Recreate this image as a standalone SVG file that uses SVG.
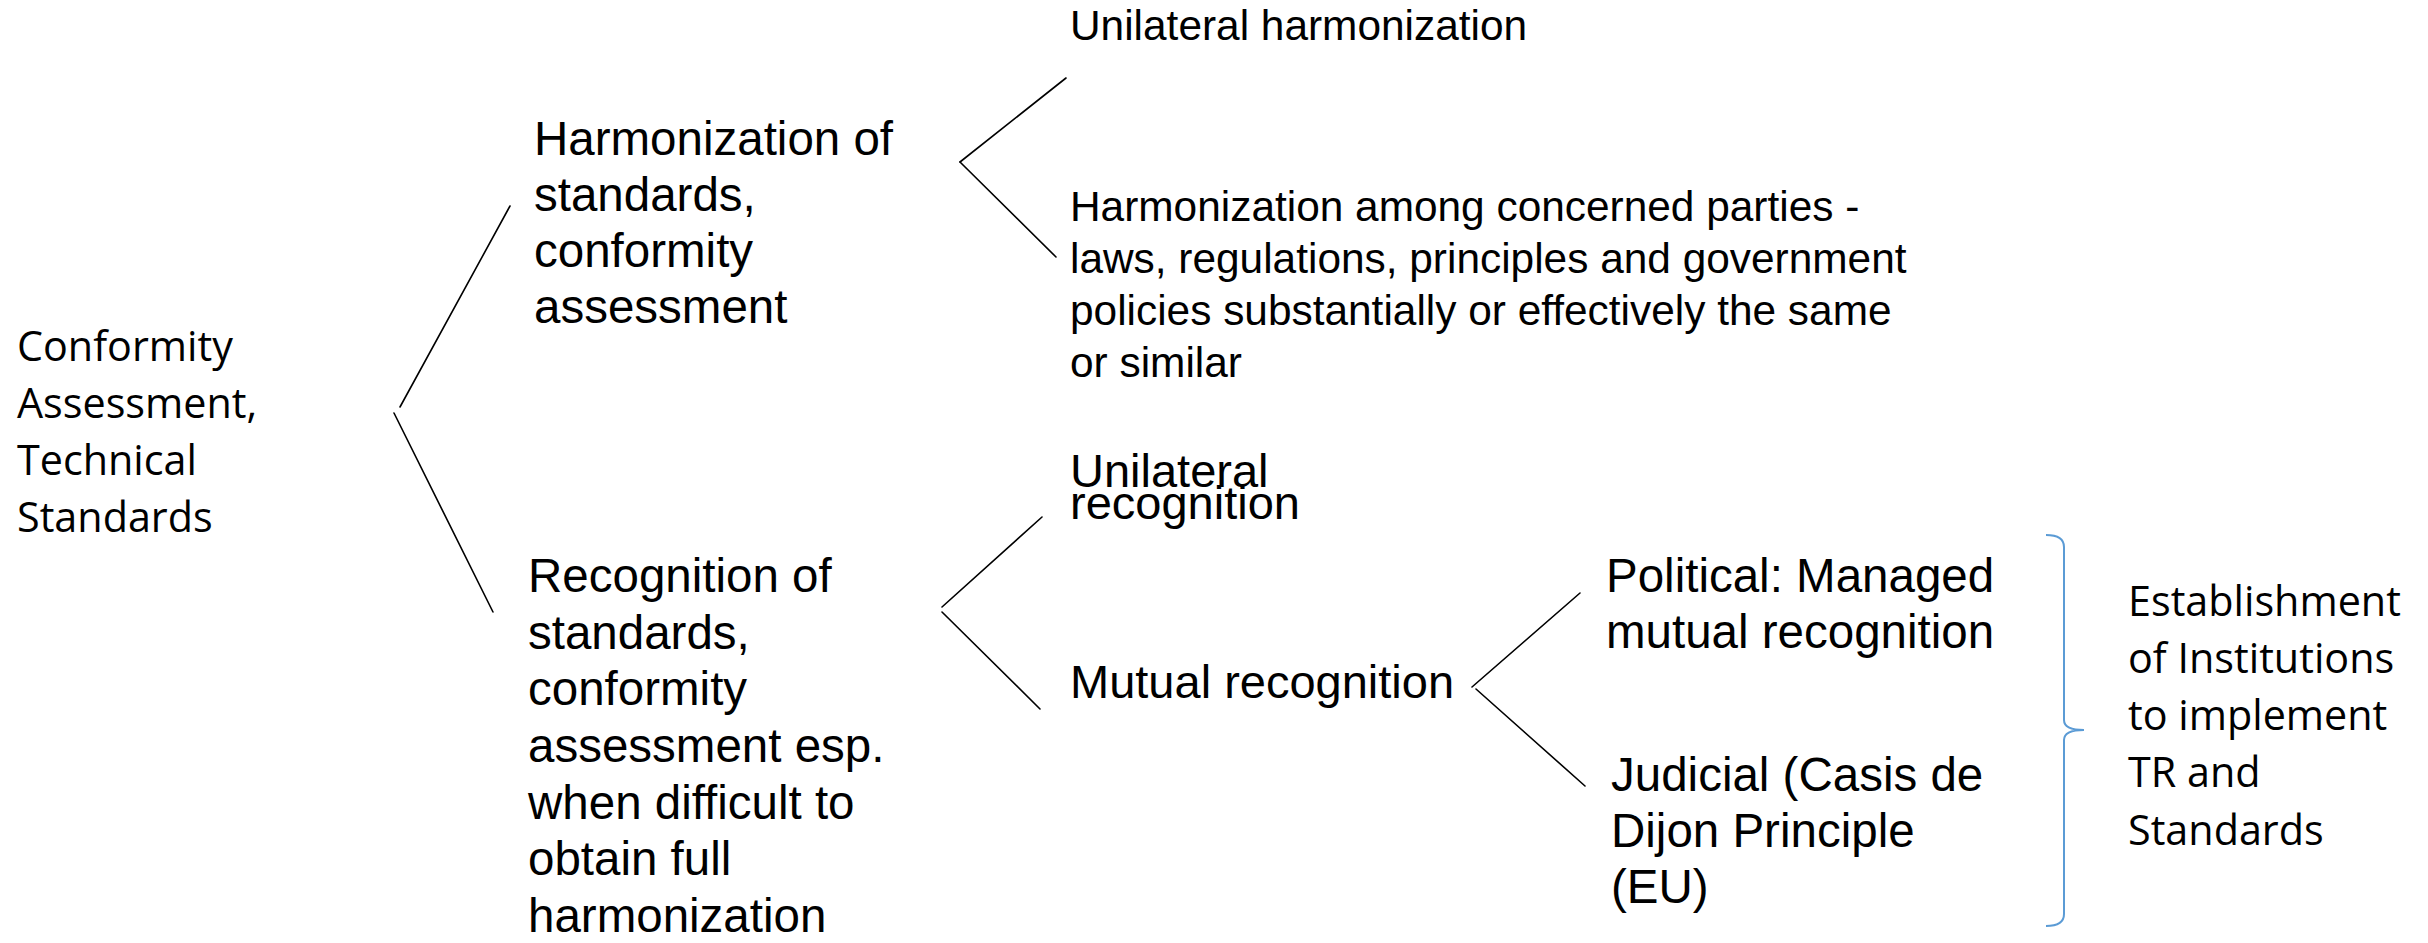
<svg xmlns="http://www.w3.org/2000/svg" width="2428" height="943" viewBox="0 0 2428 943">
<style>
.a{font-family:"Liberation Sans",Arial,sans-serif;fill:#000}
.c{font-family:"Open Sans","Noto Sans",sans-serif;fill:#000;font-size:41.3px}
.s{font-size:47.5px}
.m{font-size:42.4px}
.ln{stroke:#000;stroke-width:1.6;fill:none;stroke-linecap:round}
.br{stroke:#5B9BD5;stroke-width:2;fill:none}
</style>
<rect width="2428" height="943" fill="#fff"/>
<g id="connectors">
<line class="ln" x1="400" y1="407" x2="510" y2="206"/>
<line class="ln" x1="394" y1="413" x2="493" y2="612"/>
<line class="ln" x1="960" y1="162" x2="1066" y2="78"/>
<line class="ln" x1="960" y1="162" x2="1056" y2="257"/>
<line class="ln" x1="942" y1="607" x2="1042" y2="517"/>
<line class="ln" x1="942" y1="612" x2="1040" y2="709"/>
<line class="ln" x1="1472" y1="687" x2="1580" y2="593"/>
<line class="ln" x1="1476" y1="689" x2="1585" y2="786"/>
</g>
<g id="root">
<text class="c" x="17" y="361"><tspan x="17" y="361">Conformity</tspan><tspan x="17" y="418">Assessment,</tspan><tspan x="17" y="475">Technical</tspan><tspan x="17" y="532">Standards</tspan></text>
</g>
<g id="harmonization">
<text class="a s" x="534" y="155"><tspan x="534" y="155">Harmonization of</tspan><tspan x="534" y="211">standards,</tspan><tspan x="534" y="267">conformity</tspan><tspan x="534" y="323">assessment</tspan></text>
</g>
<g id="unilateral-harmonization">
<text class="a m" x="1070" y="40">Unilateral harmonization</text>
</g>
<g id="harmonization-among">
<text class="a m" x="1070" y="221"><tspan x="1070" y="221">Harmonization among concerned parties -</tspan><tspan x="1070" y="273">laws, regulations, principles and government</tspan><tspan x="1070" y="325">policies substantially or effectively the same</tspan><tspan x="1070" y="377">or similar</tspan></text>
</g>
<g id="recognition">
<text class="a s" x="528" y="592"><tspan x="528" y="592">Recognition of</tspan><tspan x="528" y="649">standards,</tspan><tspan x="528" y="705">conformity</tspan><tspan x="528" y="762">assessment esp.</tspan><tspan x="528" y="819">when difficult to</tspan><tspan x="528" y="875">obtain full</tspan><tspan x="528" y="932">harmonization</tspan></text>
</g>
<g id="unilateral-recognition">
<text class="a" style="font-size:47px" x="1070" y="487"><tspan x="1070" y="487">Unilateral</tspan><tspan x="1070" y="519">recognition</tspan></text>
</g>
<g id="mutual-recognition">
<text class="a" style="font-size:47px" x="1070" y="698">Mutual recognition</text>
</g>
<g id="political">
<text class="a s" x="1606" y="592"><tspan x="1606" y="592">Political: Managed</tspan><tspan x="1606" y="648">mutual recognition</tspan></text>
</g>
<g id="judicial">
<text class="a s" x="1611" y="791"><tspan x="1611" y="791">Judicial (Casis de</tspan><tspan x="1611" y="847">Dijon Principle</tspan><tspan x="1611" y="903">(EU)</tspan></text>
</g>
<g id="brace">
<path class="br" d="M2046,535 Q2064,535 2064,547 L2064,720 Q2064,730 2084,730 Q2064,730 2064,740 L2064,914 Q2064,926 2046,926"/>
</g>
<g id="institutions">
<text class="c" x="2128" y="616"><tspan x="2128" y="616">Establishment</tspan><tspan x="2128" y="673">of Institutions</tspan><tspan x="2128" y="730">to implement</tspan><tspan x="2128" y="787">TR and</tspan><tspan x="2128" y="845">Standards</tspan></text>
</g>
</svg>
